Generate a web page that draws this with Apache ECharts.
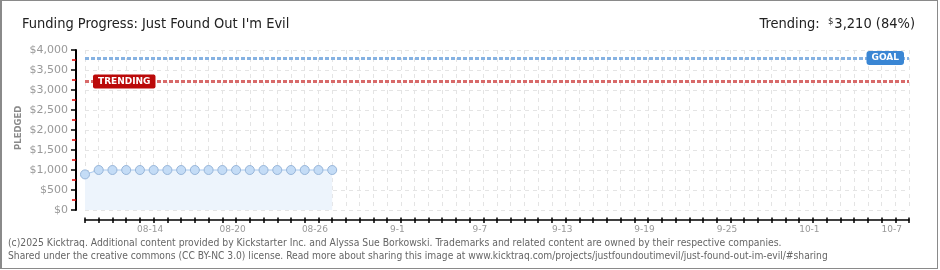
<!DOCTYPE html>
<html><head><meta charset="utf-8">
<script src="https://cdn.jsdelivr.net/npm/echarts@6/dist/echarts.min.js"></script>
<style>
html,body{margin:0;padding:0;background:#fff;}
#wrap{position:absolute;left:0;top:0;width:938px;height:269px;box-sizing:border-box;border:1px solid #8a8a8a;border-left:2px solid #8a8a8a;}
#c{position:absolute;left:0;top:0;width:940px;height:270px;}
</style></head>
<body>
<div id="c"></div>
<div id="wrap"></div>
<script>
// ---- data ----
var categories = [
 "08-09","08-10","08-11","08-12","08-13","08-14","08-15","08-16","08-17","08-18","08-19","08-20",
 "08-21","08-22","08-23","08-24","08-25","08-26","08-27","08-28","08-29","08-30","08-31",
 "9-1","9-2","9-3","9-4","9-5","9-6","9-7","9-8","9-9","9-10","9-11","9-12","9-13","9-14","9-15",
 "9-16","9-17","9-18","9-19","9-20","9-21","9-22","9-23","9-24","9-25","9-26","9-27","9-28","9-29","9-30",
 "10-1","10-2","10-3","10-4","10-5","10-6","10-7","10-8"
];
var pledged = [890,1000,1000,1000,1000,1000,1000,1000,1000,1000,1000,1000,1000,1000,1000,1000,1000,1000,1000];
var shownLabels = ["08-14","08-20","08-26","9-1","9-7","9-13","9-19","9-25","10-1","10-7"];
var goalValue = 3800;
var trendingValue = 3210;
var trendingPct = 84;
var yTicks = [0,500,1000,1500,2000,2500,3000,3500,4000];

var titleText = "Funding Progress: Just Found Out I'm Evil";
var footer1 = "(c)2025 Kicktraq. Additional content provided by Kickstarter Inc. and Alyssa Sue Borkowski. Trademarks and related content are owned by their respective companies.";
var footer2 = "Shared under the creative commons (CC BY-NC 3.0) license. Read more about sharing this image at www.kicktraq.com/projects/justfoundoutimevil/just-found-out-im-evil/#sharing";

function fmtMoney(v){ return "$" + v.toLocaleString("en-US"); }

var chart = echarts.init(document.getElementById('c'), null, {renderer:'canvas'});
var labelFn = function(idx, val){ return shownLabels.indexOf(val) >= 0; };
var pix = "DejaVu Sans";
var cond = "DejaVu Sans Condensed";
chart.setOption({
  animation:false,
  backgroundColor:'#fff',
  title:[
    {text:titleText, left:17, top:12, textStyle:{fontFamily:cond, fontSize:14.5, fontWeight:'normal', color:'#222'}},
    {text:'{a|Trending:  }{s|$}{a|' + trendingValue.toLocaleString("en-US") + ' (' + trendingPct + '%)}', right:20, top:12,
     textStyle:{fontWeight:'normal', rich:{a:{fontFamily:cond, fontSize:14.5, fontWeight:'normal', color:'#222'}, s:{fontFamily:cond, fontSize:9.5, fontWeight:'normal', color:'#222', verticalAlign:'top', lineHeight:14, padding:[0,1,6,0]}}}}
  ],
  graphic:[
    {type:'text', left:8, top:238, style:{text:footer1, fontFamily:cond, fontSize:10.3, fill:'#666'}},
    {type:'text', left:8, top:251, style:{text:footer2, fontFamily:cond, fontSize:10.2, fill:'#666'}},
    {type:'text', x:14, y:150, rotation:Math.PI/2, style:{text:'PLEDGED', fontFamily:pix, fontSize:8.5, fontWeight:'bold', fill:'#8a8a8a', letterSpacing:0.5}}
  ],
  grid:{left:85, right:31, top:50, bottom:60, containLabel:false},
  xAxis:[{
    type:'category', data:categories, boundaryGap:false, offset:10,
    axisLine:{show:true, onZero:false, lineStyle:{color:'#000', width:1.5}},
    axisTick:{show:true, interval:0, length:3, lineStyle:{color:'#000', width:1.5}},
    axisLabel:{interval:labelFn, color:'#999', fontFamily:pix, fontSize:9, margin:5, padding:[0,7,0,0]},
    splitLine:{show:true, interval:0, lineStyle:{color:'#e4e4e4', type:[4,4], width:1}}
  },{
    type:'category', data:categories, boundaryGap:false, offset:10, position:'bottom',
    axisLine:{show:false, onZero:false},
    axisTick:{show:true, inside:true, interval:0, length:2.5, lineStyle:{color:'#000', width:1.5}},
    axisLabel:{show:false}, splitLine:{show:false}
  }],
  yAxis:{
    type:'value', min:yTicks[0], max:yTicks[yTicks.length-1], interval:500, offset:9,
    axisLine:{show:true, onZero:false, lineStyle:{color:'#000', width:2, type:'solid'}},
    axisTick:{show:true, length:5, lineStyle:{color:'#000', width:1.5}},
    minorTick:{show:true, splitNumber:2, length:4, lineStyle:{color:'#e00000', width:1.5}},
    axisLabel:{formatter:fmtMoney, color:'#999', fontFamily:pix, fontSize:11, margin:8},
    splitLine:{show:true, lineStyle:{color:'#e4e4e4', type:[4,4], width:1}}
  },
  series:[{
    type:'line', data:pledged, symbol:'circle', symbolSize:9, showSymbol:true, showAllSymbol:true,
    lineStyle:{color:'#a9c9ee', width:1},
    itemStyle:{color:'#c4dcf6', borderColor:'#98b6da', borderWidth:1},
    areaStyle:{color:'#edf4fc', opacity:1},
    markLine:{
      silent:true, symbol:'none', animation:false,
      data:[
        {yAxis:goalValue, lineStyle:{color:'#86b2e2', width:3, type:[4,2]},
         label:{show:true, position:'insideEnd', distance:[5,0], align:'right', verticalAlign:'middle', formatter:'GOAL',
           color:'#fff', fontFamily:pix, fontSize:9, fontWeight:'bold', backgroundColor:'#3a86d4', borderRadius:3, padding:[3,5,2,5]}},
        {yAxis:trendingValue, lineStyle:{color:'#d86a6a', width:3, type:[4,2]},
         label:{show:true, position:'insideStart', distance:[8,0], align:'left', verticalAlign:'middle', formatter:'TRENDING',
           color:'#fff', fontFamily:pix, fontSize:9, fontWeight:'bold', backgroundColor:'#bb0a0a', borderRadius:2, padding:[3,5,2,5]}}
      ]
    }
  }]
});
</script>
</body></html>
